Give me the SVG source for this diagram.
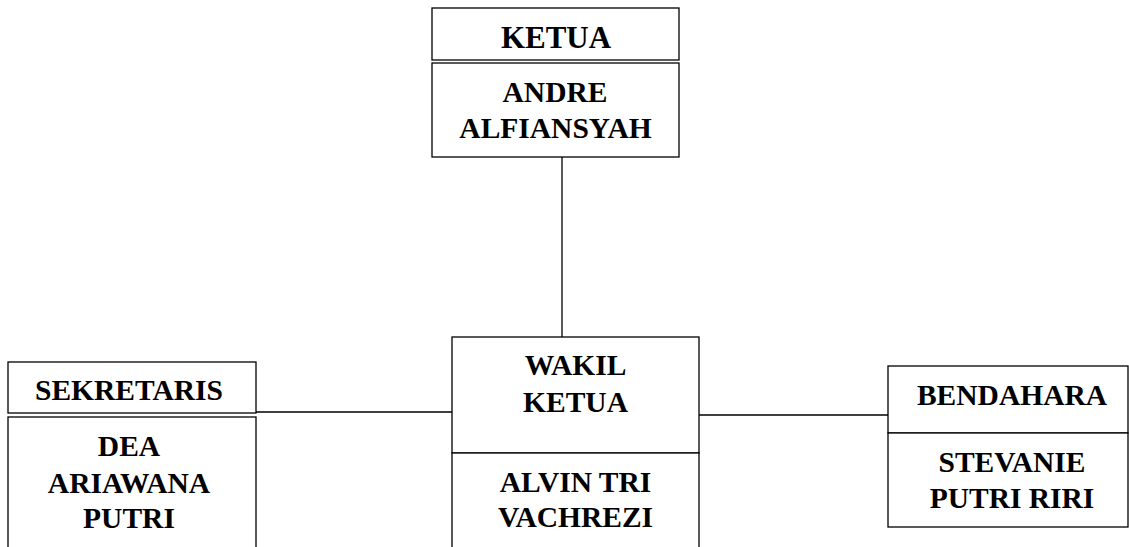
<svg xmlns="http://www.w3.org/2000/svg" width="1129" height="547" viewBox="0 0 1129 547">
<style>
.box{fill:#fff;stroke:#000;stroke-width:1.3}
.ln{stroke:#000;stroke-width:1.3;fill:none}
.t{font-family:"Liberation Serif","Times New Roman",serif;font-weight:bold;font-size:29.5px;text-anchor:middle;fill:#000}
</style>
<rect width="1129" height="547" fill="#fff"/>
<g id="connectors">
<line class="ln" x1="562" y1="157" x2="562" y2="337"/>
<line class="ln" x1="256" y1="412" x2="452" y2="412"/>
<line class="ln" x1="699" y1="415" x2="888" y2="415"/>
</g>
<g id="ketua">
<rect class="box" x="432" y="8" width="247" height="52"/>
<rect class="box" x="432" y="63" width="247" height="94"/>
<text class="t" x="556" y="48" style="font-size:31px">KETUA</text>
<text class="t" x="555" y="102">ANDRE</text>
<text class="t" x="555.5" y="138">ALFIANSYAH</text>
</g>
<g id="sekretaris">
<rect class="box" x="8" y="362" width="248" height="51"/>
<rect class="box" x="8" y="417" width="248" height="140"/>
<text class="t" x="129" y="400">SEKRETARIS</text>
<text class="t" x="129" y="456">DEA</text>
<text class="t" x="129" y="493">ARIAWANA</text>
<text class="t" x="129" y="528">PUTRI</text>
</g>
<g id="wakil">
<rect class="box" x="452" y="337" width="247" height="116"/>
<rect class="box" x="452" y="453" width="247" height="110"/>
<text class="t" x="575.5" y="375">WAKIL</text>
<text class="t" x="575.5" y="412">KETUA</text>
<text class="t" x="575.5" y="492">ALVIN TRI</text>
<text class="t" x="575.5" y="527">VACHREZI</text>
</g>
<g id="bendahara">
<rect class="box" x="888" y="366" width="240" height="67"/>
<rect class="box" x="888" y="433" width="240" height="94"/>
<text class="t" x="1012" y="405">BENDAHARA</text>
<text class="t" x="1012" y="472">STEVANIE</text>
<text class="t" x="1012" y="508">PUTRI RIRI</text>
</g>
</svg>
